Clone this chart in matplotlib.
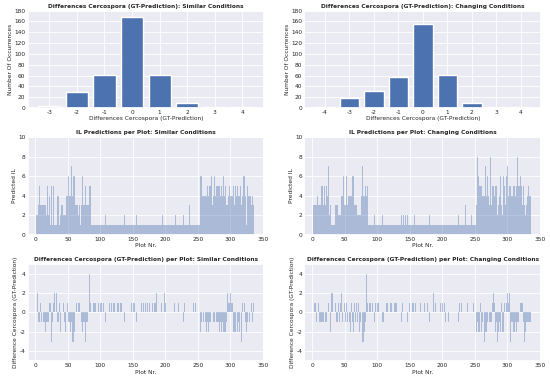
import matplotlib
matplotlib.use("Agg")
import matplotlib.pyplot as plt
import numpy as np
import seaborn as sns

# histogram of differences (GT - prediction)
diff_cats_sim = [-3, -2, -1, 0, 1, 2, 3, 4]
diff_counts_sim = [4, 29, 61, 168, 61, 10, 1, 1]
diff_cats_chg = [-4, -3, -2, -1, 0, 1, 2, 3, 4]
diff_counts_chg = [1, 18, 32, 58, 155, 61, 9, 1, 1]

# predicted IL per plot (plots 1..336)
il_sim = [
    5, 2, 2, 2, 3, 5, 3, 3, 5, 3,  3, 5, 3, 3, 5, 3, 2, 2, 5, 2,
    1, 4, 1, 1, 5, 1, 1, 5, 1, 1,  1, 5, 1, 4, 4, 4, 1, 4, 2, 3,
    2, 3, 2, 3, 2, 2, 4, 4, 6, 4,  6, 4, 4, 4, 4, 7, 4, 4, 6, 6,
    4, 3, 3, 2, 3, 2, 1, 3, 1, 2,  3, 3, 6, 3, 3, 3, 5, 3, 3, 3,
    3, 3, 5, 3, 5,
    1, 1, 1, 1, 1, 1, 1, 1, 1, 2,  1, 1, 1, 1, 1, 1, 1, 1, 1, 1,
    1, 1, 2, 1, 1, 1, 1, 1, 1, 1,  1, 1, 2, 1, 1, 1, 1, 1, 1, 1,
    1, 1, 1, 1, 1, 1, 1, 1, 1, 1,  1, 2, 1, 1, 1, 1, 1, 1, 1, 1,
    1, 1, 1, 1, 1, 1, 2, 1, 1, 1,  2, 1, 1, 1, 1, 1, 1, 1, 1, 1,
    1, 1, 1, 1, 1, 1, 1, 1, 1, 1,  1, 1, 1, 1, 1, 1, 1, 1, 1, 1,
    1, 1, 1, 1, 2, 1, 1, 1, 1, 1,  2, 1, 1, 1, 1, 1, 1, 1, 1, 1,
    1, 1, 1, 1, 1, 1, 1, 1, 1, 1,  2, 1, 1, 1, 1, 1, 1, 1, 1, 1,
    1, 1, 2, 1, 2, 1, 1, 1, 1, 1,  1, 3, 1, 1, 1, 1, 1, 1, 1, 1,
    1, 1, 1, 1, 1, 1, 1,
    8, 6, 6, 6, 4, 7, 4, 4, 3, 4,  4, 3, 5, 4, 6, 5, 5, 4, 6, 3,
    6, 4, 3, 6, 4, 3, 5, 5, 5, 5,  5, 3, 4, 5, 4, 4, 6, 3, 4, 5,
    4, 3, 4, 3, 4, 7, 5, 4, 5, 4,  4, 4, 5, 3, 4, 5, 4, 7, 5, 4,
    7, 4, 3, 5, 3, 3, 4, 6, 6, 6,  4, 3, 1, 5, 3, 4, 4, 3, 4, 3,
    3, 4, 3, 3,
]
il_chg = [
    5, 3, 3, 3, 3, 3, 4, 4, 4, 3,  3, 3, 3, 5, 3, 5, 3, 3, 5, 3,
    4, 5, 4, 4, 7, 2, 1, 3, 5, 1,  1, 1, 1, 1, 3, 3, 3, 3, 3, 2,
    2, 2, 2, 2, 4, 4, 4, 6, 4, 3,  3, 3, 6, 3, 4, 4, 4, 7, 4, 4,
    6, 6, 6, 6, 3, 3, 3, 3, 2, 2,  2, 2, 2, 2, 4, 4, 7, 4, 4, 4,
    4, 5, 4, 4, 5,
    1, 1, 1, 1, 1, 1, 1, 1, 1, 1,  2, 1, 1, 1, 1, 1, 1, 1, 1, 1,
    1, 2, 2, 1, 1, 1, 1, 1, 1, 1,  1, 1, 1, 1, 1, 1, 1, 1, 1, 1,
    1, 1, 1, 1, 1, 1, 1, 1, 1, 1,  1, 2, 1, 1, 2, 1, 1, 2, 1, 1,
    2, 1, 1, 1, 2, 1, 1, 1, 1, 1,  1, 2, 1, 1, 1, 1, 1, 1, 1, 1,
    1, 1, 1, 1, 1, 1, 1, 1, 1, 2,  1, 1, 1, 1, 2, 1, 1, 1, 1, 1,
    1, 1, 1, 1, 1, 1, 1, 1, 1, 2,  1, 1, 2, 1, 1, 2, 1, 1, 2, 1,
    1, 1, 1, 1, 1, 1, 1, 1, 1, 2,  1, 1, 1, 1, 1, 1, 1, 1, 1, 2,
    1, 1, 1, 1, 2, 1, 1, 1, 1, 1,  3, 1, 1, 1, 1, 1, 1, 1, 1, 2,
    1, 1, 1, 1, 2, 1, 1,
    3, 8, 6, 6, 5, 6, 5, 5, 6, 4,  4, 4, 4, 7, 4, 4, 6, 4, 4, 4,
    3, 8, 4, 3, 5, 4, 5, 4, 6, 5,  5, 3, 2, 3, 2, 4, 6, 3, 3, 2,
    4, 6, 6, 5, 3, 4, 6, 7, 4, 4,  5, 4, 5, 4, 6, 4, 5, 3, 5, 4,
    5, 5, 6, 8, 5, 5, 5, 6, 6, 5,  3, 6, 5, 3, 3, 2, 3, 5, 4, 5,
    4, 4, 5, 4,
]

# difference GT - prediction per plot
d_sim = [
    -3, 0, 2, -1, -1, -1, 2, 1, -1, -1,  0, -2, -1, -1, -1, -2, -1, 0, -1, -1,
    0, 1, 1, 0, -3, -1, 0, 1, 0, 2,  0, 0, 2, -1, -2, -1, 1, -1, -2, 0,
    1, 0, 1, -1, -1, -2, -1, 0, -1, 1,  -1, 1, -1, -2, -2, -1, -3, -2, -3, -2,
    -1, 0, 1, -1, 0, 1, -1, 1, 0, 1,  -1, -1, -2, -1, -2, -1, -3, -2, -1, -1,
    -1, 0, 4, 2, 1,
    0, 0, 0, 1, 0, 1, 0, 1, 0, -1,  0, 1, 0, 0, 1, 0, 1, 0, 0, 1,
    0, 1, -1, 0, 1, 0, 1, 0, 1, 0,  0, 1, -1, 0, 1, 0, 1, 0, 1, 0,
    1, 0, 1, 0, 0, 1, 0, 1, 0, 1,  0, -1, 0, 0, 0, 1, 0, 0, 1, 0,
    0, 0, 1, 0, 0, 1, -1, 1, 0, 1,  -1, 0, 1, 0, 0, 1, 0, 1, 0, 0,
    1, 0, 0, 1, 0, 0, 0, 1, 0, 0,  1, 0, 0, 0, 1, 0, 0, 1, 0, 1,
    2, 1, 0, 0, 1, 0, 0, 0, 1, 0,  0, 0, 0, 2, 1, 1, 0, 0, 1, 0,
    0, 1, 0, 0, 1, 0, 0, 0, 1, 0,  0, 0, -1, 0, 1, 0, 0, 0, 1, 0,
    0, -1, -1, 1, -1, 0, 0, 1, 0, 0,  0, 0, 0, 0, 0, 1, 0, 1, 0, 0,
    1, 0, 0, 0, 0, 0, 0,
    -1, -2, -1, -1, 0, -2, -1, 0, 0, -1,  -2, -1, -1, -2, 0, -1, -1, 1, 0, 0,
    0, -1, 1, -1, 0, 1, -1, -1, 0, -1,  -2, -1, -1, -2, 0, -1, -2, -2, -2, -2,
    -2, -1, 0, 2, 1, 0, 1, 2, 3, 1,  1, -1, -2, -2, -1, -2, 0, -1, -2, -1,
    -1, -2, -1, 0, -3, -1, 1, 0, 1, 1,  -1, -2, -2, -1, -2, 0, -1, -1, 0, 1,
    -1, -1, 0, 1,
]
d_chg = [
    -3, 0, 1, -1, 1, -1, 1, 0, -1, 1,  -1, -2, -1, -1, -2, -1, -1, -2, 0, -1,
    0, -1, 0, 1, 1, 0, -1, -2, 0, 2,  2, 1, 0, 0, 3, 1, -1, -2, -1, 1,
    0, -1, 1, 0, 2, -1, -3, 0, -1, 1,  -1, -2, 1, -1, -2, 0, -1, -3, -2, 1,
    0, -1, -2, 0, 1, -1, -2, 1, 0, -1,  1, -1, -2, -1, 1, 0, -3, -2, -3, -2,
    -2, -1, 4, 2, 1,
    0, 0, 1, 0, 1, 0, 0, 1, 0, 1,  -1, 1, 0, 0, 1, 0, 1, 0, 1, 0,
    0, -1, -1, 1, -1, 0, 1, 0, 1, 0,  1, 0, 1, 0, 1, 0, 1, 0, 1, 0,
    1, 0, 1, 0, 1, 0, 1, 0, 0, 1,  0, -1, 0, 1, 0, 1, 0, 0, 1, 0,
    -1, -1, 0, 1, -1, 0, 1, 0, 1, 0,  1, 0, 0, 1, 0, 1, 0, 0, 0, 0,
    1, 0, 0, 0, 1, 0, 0, 1, 0, -1,  0, 1, 0, 0, -1, 1, 0, 0, 1, 0,
    2, 1, 0, 1, 0, 0, 1, 0, 0, 1,  0, 1, 1, 0, 1, 1, 0, 1, 0, -1,
    0, 1, 0, -1, 0, 0, 1, 0, 0, 1,  0, 0, 1, 0, 0, 1, 0, 0, 0, -1,
    1, 0, 0, 1, 0, 0, 1, 0, 0, 1,  0, 0, 0, 1, 0, 0, 0, 0, 1, 0,
    0, 0, 1, 0, 0, 0, 0,
    -2, -1, 1, -2, -2, -1, 1, -2, -1, -1,  0, -2, -3, -2, -3, -2, -1, -2, 0, -4,
    -1, -1, 1, -1, 1, 0, 2, 1, -1, -2,  -1, -2, -3, -2, -1, -1, -2, -1, 1, -2,
    -1, -2, 0, 1, 0, -1, 1, 2, 2, 1,  2, -2, -3, -1, -2, -1, -2, -3, -2, -1,
    -2, -2, -2, -1, -1, -3, 0, 1, -3, 1,  1, -2, -1, -3, 1, -2, -1, -2, -1, -1,
    -2, -1, 0, -1,
]

sns.set_theme(style="darkgrid")
plt.rcParams["font.family"] = ["DejaVu Sans"]
plt.rcParams.update({
    "xtick.labelsize": 4.2, "ytick.labelsize": 4.2,
    "axes.labelsize": 4.2, "axes.titlesize": 4.2,
    "xtick.major.size": 0, "ytick.major.size": 0,
    "grid.linewidth": 0.6, "xtick.major.pad": 1.5, "ytick.major.pad": 1.5,
    "axes.labelpad": 1.0, "axes.titlepad": 2.0,
    "axes.unicode_minus": False,
})

blue = "#4c72b0"
fig, axs = plt.subplots(3, 2, figsize=(5.5, 3.79), dpi=100)
fig.subplots_adjust(left=0.05, right=0.984, top=0.972, bottom=0.047,
                    wspace=0.17, hspace=0.30)

tops = [(diff_cats_sim, diff_counts_sim, "Similar"),
        (diff_cats_chg, diff_counts_chg, "Changing")]
for ax, (cats, counts, cond) in zip(axs[0], tops):
    ax.bar(cats, counts, color=blue, width=0.8)
    ax.set_xticks(cats)
    ax.set_ylim(0, 180)
    ax.set_yticks(range(0, 181, 20))
    ax.set_title("Differences Cercospora (GT-Prediction): %s Conditions" % cond,
                 fontweight="bold")
    ax.set_xlabel("Differences Cercospora (GT-Prediction)")
    ax.set_ylabel("Number Of Occurrences")

for ax, vals, cond in zip(axs[1], [il_sim, il_chg], ["Similar", "Changing"]):
    x = np.arange(1, len(vals) + 1)
    ax.bar(x, vals, color=blue, alpha=0.4, width=1.0, linewidth=0)
    ax.set_ylim(0, 10)
    ax.set_yticks(range(0, 11, 2))
    ax.set_xticks(range(0, 351, 50))
    ax.set_title("IL Predictions per Plot: %s Conditions" % cond, fontweight="bold")
    ax.set_xlabel("Plot Nr.")
    ax.set_ylabel("Predicted IL")

for ax, vals, cond in zip(axs[2], [d_sim, d_chg], ["Similar", "Changing"]):
    x = np.arange(1, len(vals) + 1)
    ax.bar(x, vals, color=blue, alpha=0.4, width=1.0, linewidth=0)
    ax.set_ylim(-5, 5)
    ax.set_yticks(range(-4, 5, 2))
    ax.set_xticks(range(0, 351, 50))
    ax.set_title("Differences Cercospora (GT-Prediction) per Plot: %s Conditions" % cond,
                 fontweight="bold")
    ax.set_xlabel("Plot Nr.")
    ax.set_ylabel("Difference Cercospora (GT-Prediction)")

for ax in axs[1:].ravel():
    ax.set_xlim(-12, 352)

fig.savefig("out.png", dpi=100)
